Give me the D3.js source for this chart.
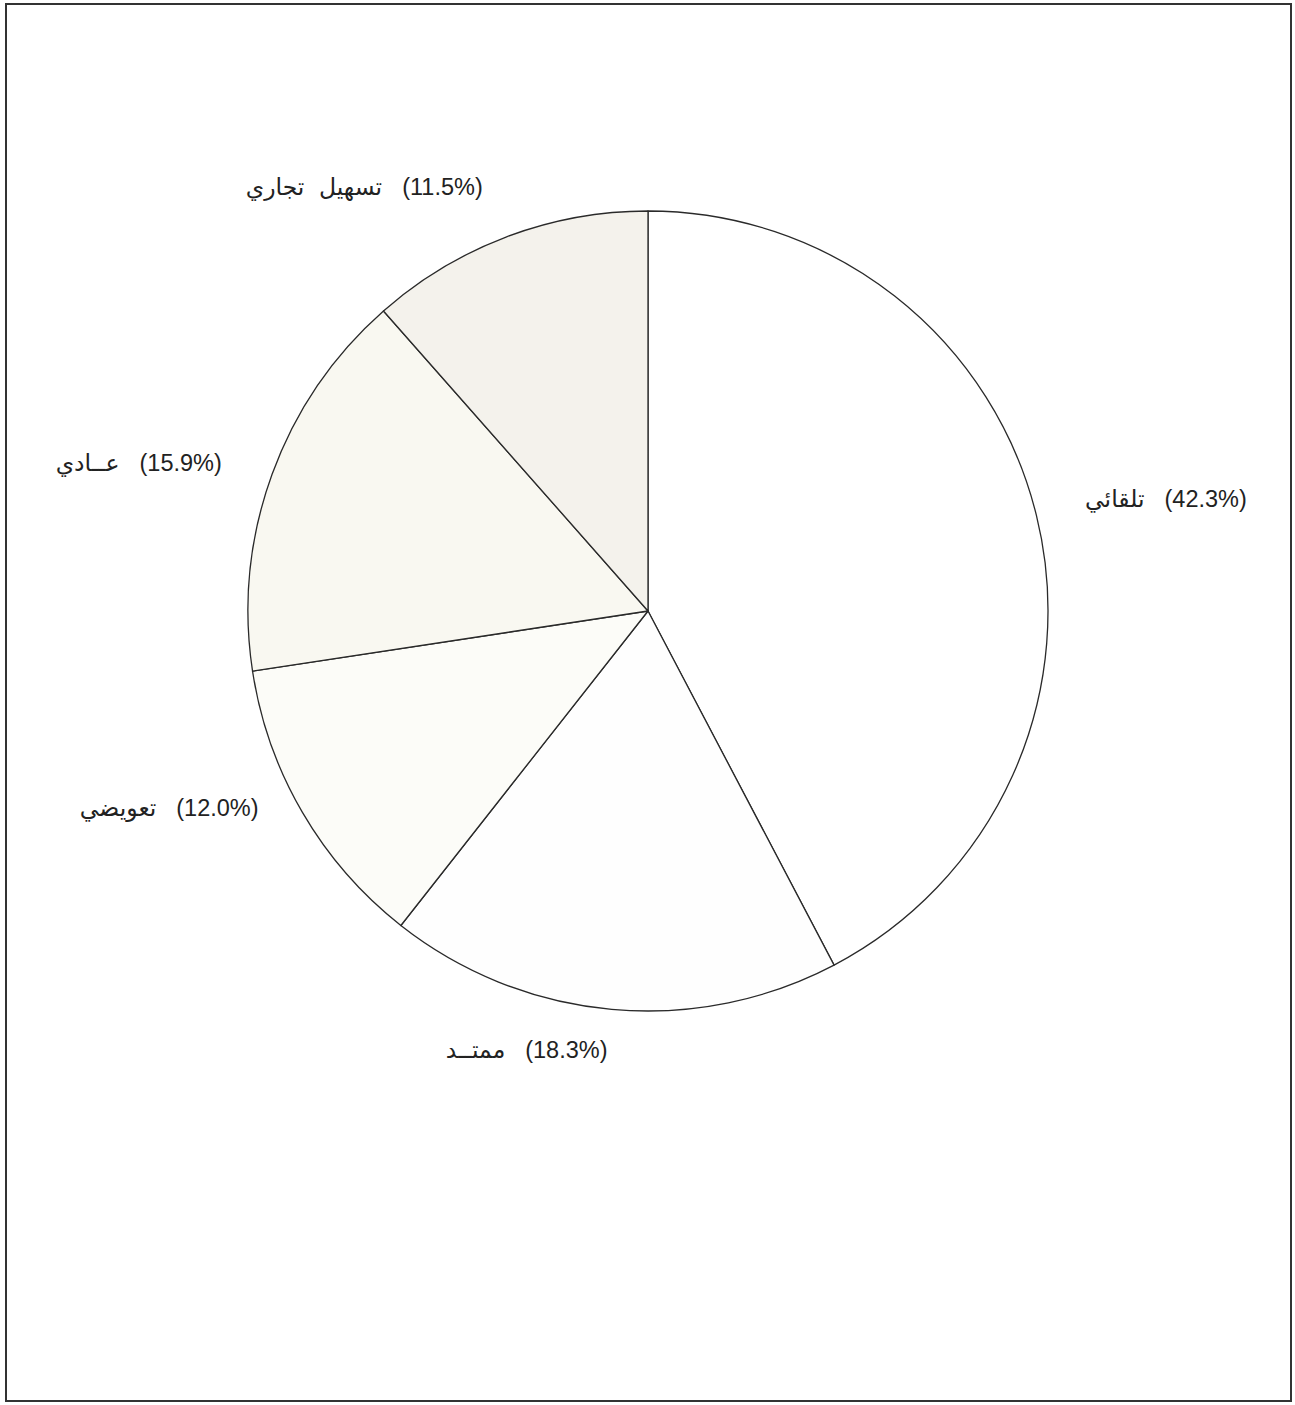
<!DOCTYPE html>
<html>
<head>
<meta charset="utf-8">
<script src="https://cdn.jsdelivr.net/npm/d3@7"></script>
<style>
  body { margin: 0; background: #fff; }
  text { font-family: "Liberation Sans", "DejaVu Sans", sans-serif; }
</style>
</head>
<body>
<div id="chart"></div>
<script>
// data, clockwise from 12 o'clock
const categories = ["تلقائي", "ممتــد", "تعويضي", "عــادي", "تسهيل تجاري"];
const shares = [42.3, 18.3, 12.0, 15.9, 11.5];
const colors = ["#ffffff", "#fefefe", "#fcfcf8", "#f9f8f1", "#f4f2ec"];

// layout
const svgWidth = 1295;
const svgHeight = 1405;
const cx = 648, cy = 611, radius = 400, labelR = 445;
const fontSize = 23.5, gap = 20;
// small hand nudges for label placement (dx, dy)
const labelNudge = [[5, -6], [0, -4], [-5, -27], [-8, 4], [-8, -8]];

const svg = d3.select("#chart")
  .append("svg")
  .attr("width", svgWidth)
  .attr("height", svgHeight);

// frame
svg.append("rect")
  .attr("x", 6).attr("y", 4)
  .attr("width", 1285).attr("height", 1397)
  .attr("fill", "none")
  .attr("stroke", "#333")
  .attr("stroke-width", 2);

const data = categories.map((c, i) => ({ label: c, value: shares[i], color: colors[i], i }));

const pie = d3.pie().sort(null).value(d => d.value);
const arc = d3.arc().innerRadius(0).outerRadius(radius);

const g = svg.append("g").attr("transform", `translate(${cx},${cy})`);

const arcs = pie(data);

g.selectAll("path")
  .data(arcs)
  .enter()
  .append("path")
  .attr("d", arc)
  .attr("fill", d => d.data.color)
  .attr("stroke", "#2a2a2a")
  .attr("stroke-width", 1.3)
  .attr("stroke-linejoin", "round");

// labels: Arabic name on the left, percentage on the right
arcs.forEach(d => {
  const a = (d.startAngle + d.endAngle) / 2;
  const n = labelNudge[d.data.i];
  const x = Math.sin(a) * labelR + n[0];
  const y = -Math.cos(a) * labelR + n[1];

  const name = g.append("text")
    .attr("y", y).attr("dy", "0.35em")
    .attr("font-size", fontSize)
    .attr("fill", "#222")
    .attr("direction", "rtl")
    .attr("word-spacing", 8)
    .attr("text-anchor", "start")
    .text(d.data.label);
  const pct = g.append("text")
    .attr("y", y).attr("dy", "0.35em")
    .attr("font-size", fontSize)
    .attr("fill", "#222")
    .attr("direction", "ltr")
    .text(`(${d.data.value.toFixed(1)}%)`);

  const wName = name.node().getComputedTextLength();
  const wPct = pct.node().getComputedTextLength();
  // left edge of the whole label
  const left = Math.sin(a) > 0 ? x : x - (wName + gap + wPct);
  // rtl + start anchors at the right edge of the name
  name.attr("x", left + wName);
  pct.attr("x", left + wName + gap).attr("text-anchor", "start");
});
</script>
</body>
</html>
